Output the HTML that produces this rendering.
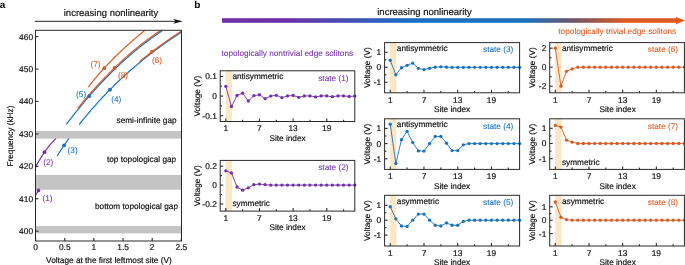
<!DOCTYPE html>
<html><head><meta charset="utf-8"><style>
html,body{margin:0;padding:0;background:#fff;width:685px;height:265px;overflow:hidden}
svg{display:block;will-change:transform}
text{font-family:"Liberation Sans", sans-serif;text-rendering:geometricPrecision}
</style></head><body>
<svg width="685" height="265" viewBox="0 0 685 265" font-family='"Liberation Sans", sans-serif'><text x="-0.30" y="8.30" font-size="10" text-anchor="start" fill="#000" font-weight="bold">a</text>
<text x="111.00" y="16.00" font-size="9.5" text-anchor="middle" fill="#111" stroke="#111" stroke-width="0.18">increasing nonlinearity</text>
<line x1="35.00" y1="21.30" x2="177.00" y2="21.30" stroke="#222" stroke-width="1.0"/>
<path d="M173.4,18.9 L182.7,21.3 L173.4,23.7 L175.4,21.3 Z" fill="#111"/>
<rect x="35.5" y="131.0" width="146.0" height="7.599999999999994" fill="#c4c4c4"/>
<rect x="35.5" y="174.9" width="146.0" height="14.900000000000006" fill="#c4c4c4"/>
<rect x="35.5" y="226.1" width="146.0" height="7.300000000000011" fill="#c4c4c4"/>
<polyline points="88.30,87.00 89.26,85.78 90.22,84.57 91.18,83.37 92.14,82.19 93.10,81.01 94.06,79.85 95.02,78.70 95.97,77.56 96.93,76.43 97.89,75.31 98.85,74.20 99.81,73.10 100.77,72.01 101.73,70.93 102.69,69.86 103.65,68.80 104.61,67.75 105.57,66.71 106.53,65.68 107.49,64.66 108.45,63.65 109.41,62.65 110.36,61.65 111.32,60.66 112.28,59.69 113.24,58.71 114.20,57.75 115.16,56.80 116.12,55.85 117.08,54.91 118.04,53.98 119.00,53.06 119.96,52.14 120.92,51.23 121.88,50.33 122.84,49.43 123.79,48.54 124.75,47.66 125.71,46.78 126.67,45.91 127.63,45.04 128.59,44.18 129.55,43.33 130.51,42.48 131.47,41.64 132.43,40.80 133.39,39.96 134.35,39.14 135.31,38.31 136.27,37.49 137.23,36.68 138.18,35.87 139.14,35.06 140.10,34.26 141.06,33.46 142.02,32.67 142.98,31.87 143.94,31.09 144.90,30.30" fill="none" stroke="#db5a21" stroke-width="1.2" stroke-linejoin="round"/>
<polyline points="35.60,167.00 35.94,166.36 36.28,165.73 36.63,165.10 36.97,164.48 37.31,163.87 37.65,163.26 38.00,162.65 38.34,162.05 38.68,161.46 39.02,160.87 39.37,160.29 39.71,159.71 40.05,159.14 40.39,158.57 40.74,158.01 41.08,157.46 41.42,156.91 41.76,156.36 42.11,155.82 42.45,155.29 42.79,154.76 43.13,154.24 43.47,153.72 43.82,153.21 44.16,152.70 44.50,152.20 44.84,151.70 45.19,151.21 45.53,150.73 45.87,150.25 46.21,149.77 46.56,149.30 46.90,148.84 47.24,148.38 47.58,147.93 47.93,147.48 48.27,147.04 48.61,146.60 48.95,146.17 49.29,145.75 49.64,145.33 49.98,144.91 50.32,144.51 50.66,144.10 51.01,143.70 51.35,143.31 51.69,142.92 52.03,142.54 52.38,142.17 52.72,141.79 53.06,141.43 53.40,141.07 53.75,140.71 54.09,140.36 54.43,140.02 54.77,139.68 55.12,139.35 55.46,139.02 55.80,138.70" fill="none" stroke="#7431a9" stroke-width="1.2" stroke-linejoin="round"/>
<polyline points="57.10,156.10 57.30,155.78 57.50,155.45 57.71,155.13 57.91,154.81 58.11,154.49 58.31,154.17 58.51,153.85 58.71,153.53 58.92,153.21 59.12,152.89 59.32,152.58 59.52,152.26 59.72,151.94 59.92,151.63 60.13,151.32 60.33,151.00 60.53,150.69 60.73,150.38 60.93,150.07 61.13,149.76 61.34,149.45 61.54,149.14 61.74,148.84 61.94,148.53 62.14,148.23 62.34,147.92 62.55,147.62 62.75,147.31 62.95,147.01 63.15,146.71 63.35,146.41 63.55,146.11 63.76,145.81 63.96,145.51 64.16,145.21 64.36,144.92 64.56,144.62 64.76,144.32 64.97,144.03 65.17,143.74 65.37,143.44 65.57,143.15 65.77,142.86 65.97,142.57 66.18,142.28 66.38,141.99 66.58,141.70 66.78,141.41 66.98,141.13 67.18,140.84 67.39,140.55 67.59,140.27 67.79,139.99 67.99,139.70 68.19,139.42 68.39,139.14 68.60,138.86 68.80,138.58 69.00,138.30" fill="none" stroke="#1872be" stroke-width="1.2" stroke-linejoin="round"/>
<polyline points="35.60,195.40 35.65,195.32 35.69,195.23 35.74,195.15 35.79,195.06 35.84,194.98 35.88,194.89 35.93,194.81 35.98,194.72 36.03,194.64 36.07,194.55 36.12,194.47 36.17,194.38 36.22,194.30 36.26,194.21 36.31,194.13 36.36,194.04 36.41,193.96 36.45,193.87 36.50,193.79 36.55,193.71 36.60,193.62 36.64,193.54 36.69,193.45 36.74,193.37 36.79,193.28 36.83,193.20 36.88,193.11 36.93,193.03 36.98,192.94 37.02,192.86 37.07,192.77 37.12,192.69 37.17,192.60 37.21,192.52 37.26,192.43 37.31,192.35 37.36,192.26 37.40,192.18 37.45,192.09 37.50,192.01 37.55,191.93 37.59,191.84 37.64,191.76 37.69,191.67 37.74,191.59 37.78,191.50 37.83,191.42 37.88,191.33 37.93,191.25 37.97,191.16 38.02,191.08 38.07,190.99 38.12,190.91 38.16,190.82 38.21,190.74 38.26,190.65 38.31,190.57 38.35,190.48 38.40,190.40" fill="none" stroke="#7431a9" stroke-width="1.2" stroke-linejoin="round"/>
<polyline points="79.10,124.60 80.40,122.97 81.69,121.36 82.99,119.76 84.28,118.18 85.58,116.61 86.88,115.06 88.17,113.52 89.47,111.99 90.77,110.48 92.06,108.98 93.36,107.50 94.65,106.03 95.95,104.58 97.25,103.13 98.54,101.70 99.84,100.29 101.14,98.88 102.43,97.49 103.73,96.12 105.02,94.75 106.32,93.40 107.62,92.06 108.91,90.73 110.21,89.42 111.51,88.12 112.80,86.82 114.10,85.55 115.39,84.28 116.69,83.02 117.99,81.78 119.28,80.54 120.58,79.32 121.87,78.11 123.17,76.91 124.47,75.72 125.76,74.54 127.06,73.38 128.36,72.22 129.65,71.07 130.95,69.93 132.24,68.81 133.54,67.69 134.84,66.58 136.13,65.48 137.43,64.40 138.73,63.32 140.02,62.25 141.32,61.19 142.61,60.14 143.91,59.09 145.21,58.06 146.50,57.03 147.80,56.02 149.09,55.01 150.39,54.01 151.69,53.02 152.98,52.03 154.28,51.06 155.58,50.09 156.87,49.13 158.17,48.18 159.46,47.23 160.76,46.29 162.06,45.36 163.35,44.43 164.65,43.52 165.95,42.61 167.24,41.70 168.54,40.80 169.83,39.91 171.13,39.03 172.43,38.15 173.72,37.28 175.02,36.41 176.32,35.55 177.61,34.69 178.91,33.84 180.20,32.99 181.50,32.15" fill="none" stroke="#1872be" stroke-width="1.2" stroke-linejoin="round"/>
<polyline points="66.30,124.40 67.61,122.68 68.93,120.97 70.24,119.28 71.55,117.59 72.86,115.92 74.18,114.27 75.49,112.62 76.80,110.99 78.11,109.37 79.43,107.77 80.74,106.17 82.05,104.59 83.36,103.02 84.68,101.47 85.99,99.92 87.30,98.39 88.62,96.87 89.93,95.37 91.24,93.87 92.55,92.39 93.87,90.92 95.18,89.47 96.49,88.02 97.80,86.59 99.12,85.17 100.43,83.76 101.74,82.36 103.05,80.98 104.37,79.61 105.68,78.25 106.99,76.90 108.31,75.57 109.62,74.24 110.93,72.93 112.24,71.63 113.56,70.35 114.87,69.07 116.18,67.81 117.49,66.56 118.81,65.32 120.12,64.09 121.43,62.87 122.74,61.67 124.06,60.48 125.37,59.29 126.68,58.13 127.99,56.97 129.31,55.82 130.62,54.69 131.93,53.56 133.25,52.45 134.56,51.35 135.87,50.27 137.18,49.19 138.50,48.12 139.81,47.07 141.12,46.03 142.43,44.99 143.75,43.97 145.06,42.97 146.37,41.97 147.68,40.98 149.00,40.01 150.31,39.04 151.62,38.09 152.94,37.15 154.25,36.22 155.56,35.30 156.87,34.39 158.19,33.50 159.50,32.61 160.81,31.73 162.12,30.87" fill="none" stroke="#1872be" stroke-width="1.2" stroke-linejoin="round"/>
<polyline points="77.60,108.50 78.77,107.07 79.94,105.64 81.11,104.23 82.28,102.82 83.45,101.42 84.62,100.04 85.79,98.66 86.96,97.29 88.13,95.94 89.30,94.59 90.47,93.25 91.64,91.93 92.81,90.61 93.97,89.30 95.14,88.00 96.31,86.71 97.48,85.44 98.65,84.17 99.82,82.91 100.99,81.66 102.16,80.42 103.33,79.19 104.50,77.97 105.67,76.76 106.84,75.56 108.01,74.37 109.18,73.19 110.35,72.01 111.52,70.85 112.69,69.70 113.86,68.55 115.03,67.42 116.20,66.29 117.37,65.18 118.54,64.07 119.71,62.97 120.88,61.89 122.05,60.81 123.22,59.74 124.38,58.68 125.55,57.63 126.72,56.59 127.89,55.56 129.06,54.53 130.23,53.52 131.40,52.52 132.57,51.52 133.74,50.54 134.91,49.56 136.08,48.59 137.25,47.63 138.42,46.68 139.59,45.74 140.76,44.81 141.93,43.89 143.10,42.98 144.27,42.07 145.44,41.18 146.61,40.29 147.78,39.41 148.95,38.55 150.12,37.69 151.29,36.83 152.46,35.99 153.63,35.16 154.79,34.34 155.96,33.52 157.13,32.71 158.30,31.92 159.47,31.13 160.64,30.35" fill="none" stroke="#db5a21" stroke-width="1.2" stroke-linejoin="round"/>
<polyline points="139.60,61.49 140.13,61.06 140.66,60.62 141.19,60.19 141.72,59.76 142.25,59.33 142.78,58.90 143.31,58.47 143.84,58.05 144.37,57.62 144.90,57.20 145.43,56.78 145.96,56.36 146.49,55.94 147.03,55.52 147.56,55.11 148.09,54.69 148.62,54.28 149.15,53.87 149.68,53.46 150.21,53.05 150.74,52.64 151.27,52.24 151.80,51.83 152.33,51.43 152.86,51.03 153.39,50.63 153.92,50.23 154.45,49.83 154.98,49.43 155.51,49.04 156.04,48.64 156.57,48.25 157.10,47.86 157.63,47.47 158.16,47.08 158.69,46.69 159.22,46.30 159.75,45.92 160.28,45.53 160.82,45.15 161.35,44.77 161.88,44.39 162.41,44.01 162.94,43.63 163.47,43.25 164.00,42.88 164.53,42.50 165.06,42.13 165.59,41.76 166.12,41.38 166.65,41.01 167.18,40.65 167.71,40.28 168.24,39.91 168.77,39.54 169.30,39.18 169.83,38.81 170.36,38.45 170.89,38.09 171.42,37.73 171.95,37.37 172.48,37.01 173.01,36.65 173.54,36.30 174.07,35.94 174.61,35.58 175.14,35.23 175.67,34.88 176.20,34.53 176.73,34.17 177.26,33.82 177.79,33.47 178.32,33.13 178.85,32.78 179.38,32.43 179.91,32.09 180.44,31.74 180.97,31.40 181.50,31.05" fill="none" stroke="#db5a21" stroke-width="1.2" stroke-linejoin="round"/>
<circle cx="38.40" cy="190.40" r="1.9" fill="#7431a9"/>
<circle cx="44.50" cy="152.20" r="1.9" fill="#7431a9"/>
<circle cx="64.10" cy="145.30" r="1.9" fill="#1872be"/>
<circle cx="110.00" cy="89.63" r="1.9" fill="#1872be"/>
<circle cx="89.20" cy="96.20" r="1.9" fill="#1872be"/>
<circle cx="152.00" cy="51.68" r="1.9" fill="#db5a21"/>
<circle cx="104.20" cy="68.20" r="1.9" fill="#db5a21"/>
<circle cx="114.50" cy="67.93" r="1.9" fill="#db5a21"/>
<text x="47.50" y="200.80" font-size="8.25" text-anchor="middle" fill="#7431a9" stroke="#7431a9" stroke-width="0.08">(1)</text>
<text x="48.20" y="165.40" font-size="8.25" text-anchor="middle" fill="#7431a9" stroke="#7431a9" stroke-width="0.08">(2)</text>
<text x="72.60" y="152.80" font-size="8.25" text-anchor="middle" fill="#1872be" stroke="#1872be" stroke-width="0.08">(3)</text>
<text x="116.20" y="102.20" font-size="8.25" text-anchor="middle" fill="#1872be" stroke="#1872be" stroke-width="0.08">(4)</text>
<text x="81.10" y="97.00" font-size="8.25" text-anchor="middle" fill="#1872be" stroke="#1872be" stroke-width="0.08">(5)</text>
<text x="157.00" y="63.40" font-size="8.25" text-anchor="middle" fill="#db5a21" stroke="#db5a21" stroke-width="0.08">(6)</text>
<text x="95.50" y="67.30" font-size="8.25" text-anchor="middle" fill="#db5a21" stroke="#db5a21" stroke-width="0.08">(7)</text>
<text x="123.00" y="77.70" font-size="8.25" text-anchor="middle" fill="#db5a21" stroke="#db5a21" stroke-width="0.08">(8)</text>
<text x="176.60" y="123.40" font-size="8.25" text-anchor="end" fill="#111" stroke="#111" stroke-width="0.18">semi-infinite gap</text>
<text x="176.20" y="161.80" font-size="8.25" text-anchor="end" fill="#111" stroke="#111" stroke-width="0.18">top topological gap</text>
<text x="178.00" y="209.30" font-size="8.25" text-anchor="end" fill="#111" stroke="#111" stroke-width="0.18">bottom topological gap</text>
<rect x="35.5" y="30.3" width="146.0" height="210.7" fill="none" stroke="#2a2a2a" stroke-width="1"/>
<line x1="35.50" y1="231.20" x2="38.50" y2="231.20" stroke="#2a2a2a" stroke-width="1.1"/>
<text x="33.10" y="234.10" font-size="8.4" text-anchor="end" fill="#111" stroke="#111" stroke-width="0.18">400</text>
<line x1="35.50" y1="198.77" x2="38.50" y2="198.77" stroke="#2a2a2a" stroke-width="1.1"/>
<text x="33.10" y="201.67" font-size="8.4" text-anchor="end" fill="#111" stroke="#111" stroke-width="0.18">410</text>
<line x1="35.50" y1="166.34" x2="38.50" y2="166.34" stroke="#2a2a2a" stroke-width="1.1"/>
<text x="33.10" y="169.24" font-size="8.4" text-anchor="end" fill="#111" stroke="#111" stroke-width="0.18">420</text>
<line x1="35.50" y1="133.91" x2="38.50" y2="133.91" stroke="#2a2a2a" stroke-width="1.1"/>
<text x="33.10" y="136.81" font-size="8.4" text-anchor="end" fill="#111" stroke="#111" stroke-width="0.18">430</text>
<line x1="35.50" y1="101.48" x2="38.50" y2="101.48" stroke="#2a2a2a" stroke-width="1.1"/>
<text x="33.10" y="104.38" font-size="8.4" text-anchor="end" fill="#111" stroke="#111" stroke-width="0.18">440</text>
<line x1="35.50" y1="69.05" x2="38.50" y2="69.05" stroke="#2a2a2a" stroke-width="1.1"/>
<text x="33.10" y="71.95" font-size="8.4" text-anchor="end" fill="#111" stroke="#111" stroke-width="0.18">450</text>
<line x1="35.50" y1="36.62" x2="38.50" y2="36.62" stroke="#2a2a2a" stroke-width="1.1"/>
<text x="33.10" y="39.52" font-size="8.4" text-anchor="end" fill="#111" stroke="#111" stroke-width="0.18">460</text>
<line x1="35.60" y1="241.00" x2="35.60" y2="238.00" stroke="#2a2a2a" stroke-width="1.1"/>
<text x="35.60" y="250.40" font-size="8.4" text-anchor="middle" fill="#111" stroke="#111" stroke-width="0.18">0</text>
<line x1="64.75" y1="241.00" x2="64.75" y2="238.00" stroke="#2a2a2a" stroke-width="1.1"/>
<text x="64.75" y="250.40" font-size="8.4" text-anchor="middle" fill="#111" stroke="#111" stroke-width="0.18">0.5</text>
<line x1="93.90" y1="241.00" x2="93.90" y2="238.00" stroke="#2a2a2a" stroke-width="1.1"/>
<text x="93.90" y="250.40" font-size="8.4" text-anchor="middle" fill="#111" stroke="#111" stroke-width="0.18">1</text>
<line x1="123.05" y1="241.00" x2="123.05" y2="238.00" stroke="#2a2a2a" stroke-width="1.1"/>
<text x="123.05" y="250.40" font-size="8.4" text-anchor="middle" fill="#111" stroke="#111" stroke-width="0.18">1.5</text>
<line x1="152.20" y1="241.00" x2="152.20" y2="238.00" stroke="#2a2a2a" stroke-width="1.1"/>
<text x="152.20" y="250.40" font-size="8.4" text-anchor="middle" fill="#111" stroke="#111" stroke-width="0.18">2</text>
<line x1="181.35" y1="241.00" x2="181.35" y2="238.00" stroke="#2a2a2a" stroke-width="1.1"/>
<text x="181.35" y="250.40" font-size="8.4" text-anchor="middle" fill="#111" stroke="#111" stroke-width="0.18">2.5</text>
<text x="108.90" y="263.00" font-size="8.25" text-anchor="middle" fill="#111" stroke="#111" stroke-width="0.18">Voltage at the first leftmost site (V)</text>
<text x="12.70" y="136.10" font-size="8.25" text-anchor="middle" fill="#111" stroke="#111" stroke-width="0.18" transform="rotate(-90 12.7 136.1)">Frequency (kHz)</text>
<text x="194.30" y="7.90" font-size="10" text-anchor="start" fill="#000" font-weight="bold">b</text>
<defs><linearGradient id="g" x1="222" y1="0" x2="685" y2="0" gradientUnits="userSpaceOnUse">
<stop offset="0" stop-color="#7230a6"/><stop offset="0.14" stop-color="#6a31a8"/><stop offset="0.40" stop-color="#1d6cc0"/><stop offset="0.65" stop-color="#1a72bf"/><stop offset="0.755" stop-color="#6c5568"/><stop offset="0.87" stop-color="#dc5a22"/><stop offset="1" stop-color="#dc5a22"/></linearGradient></defs>
<rect x="222" y="18.2" width="456" height="4.6" fill="url(#g)"/>
<path d="M675.5,16.8 L685,20.6 L675.5,24.4 L677.5,20.6 Z" fill="#dc5a22"/>
<text x="424.50" y="14.80" font-size="9.5" text-anchor="middle" fill="#111" stroke="#111" stroke-width="0.18">increasing nonlinearity</text>
<text x="221.50" y="56.30" font-size="8.25" text-anchor="start" fill="#7431a9" stroke="#7431a9" stroke-width="0.08">topologically nontrivial edge solitons</text>
<text x="676.20" y="34.10" font-size="8.25" text-anchor="end" fill="#db5a21" stroke="#db5a21" stroke-width="0.08">topologically trivial edge solitons</text>
<rect x="225.71" y="70.8" width="6.21" height="50.7" fill="#fce7c4"/>
<polyline points="225.81,86.30 231.42,106.49 237.02,95.51 242.63,93.16 248.24,101.00 253.85,95.71 259.46,94.73 265.07,98.65 270.68,96.10 276.28,95.32 281.89,97.67 287.50,95.90 293.11,95.51 298.72,97.28 304.32,95.90 309.93,95.90 315.54,96.88 321.15,95.90 326.76,95.90 332.37,96.69 337.98,95.90 343.58,95.90 349.19,96.49 354.80,96.10" fill="none" stroke="#7431a9" stroke-width="0.9" stroke-linejoin="round"/>
<circle cx="225.81" cy="86.30" r="1.65" fill="#7431a9"/>
<circle cx="231.42" cy="106.49" r="1.65" fill="#7431a9"/>
<circle cx="237.02" cy="95.51" r="1.65" fill="#7431a9"/>
<circle cx="242.63" cy="93.16" r="1.65" fill="#7431a9"/>
<circle cx="248.24" cy="101.00" r="1.65" fill="#7431a9"/>
<circle cx="253.85" cy="95.71" r="1.65" fill="#7431a9"/>
<circle cx="259.46" cy="94.73" r="1.65" fill="#7431a9"/>
<circle cx="265.07" cy="98.65" r="1.65" fill="#7431a9"/>
<circle cx="270.68" cy="96.10" r="1.65" fill="#7431a9"/>
<circle cx="276.28" cy="95.32" r="1.65" fill="#7431a9"/>
<circle cx="281.89" cy="97.67" r="1.65" fill="#7431a9"/>
<circle cx="287.50" cy="95.90" r="1.65" fill="#7431a9"/>
<circle cx="293.11" cy="95.51" r="1.65" fill="#7431a9"/>
<circle cx="298.72" cy="97.28" r="1.65" fill="#7431a9"/>
<circle cx="304.32" cy="95.90" r="1.65" fill="#7431a9"/>
<circle cx="309.93" cy="95.90" r="1.65" fill="#7431a9"/>
<circle cx="315.54" cy="96.88" r="1.65" fill="#7431a9"/>
<circle cx="321.15" cy="95.90" r="1.65" fill="#7431a9"/>
<circle cx="326.76" cy="95.90" r="1.65" fill="#7431a9"/>
<circle cx="332.37" cy="96.69" r="1.65" fill="#7431a9"/>
<circle cx="337.98" cy="95.90" r="1.65" fill="#7431a9"/>
<circle cx="343.58" cy="95.90" r="1.65" fill="#7431a9"/>
<circle cx="349.19" cy="96.49" r="1.65" fill="#7431a9"/>
<circle cx="354.80" cy="96.10" r="1.65" fill="#7431a9"/>
<rect x="220.2" y="70.8" width="134.60000000000002" height="50.7" fill="none" stroke="#2a2a2a" stroke-width="1"/>
<line x1="220.20" y1="76.50" x2="223.20" y2="76.50" stroke="#2a2a2a" stroke-width="1.1"/>
<text x="216.80" y="79.40" font-size="8.4" text-anchor="end" fill="#111" stroke="#111" stroke-width="0.18">0.1</text>
<line x1="220.20" y1="96.10" x2="223.20" y2="96.10" stroke="#2a2a2a" stroke-width="1.1"/>
<text x="216.80" y="99.00" font-size="8.4" text-anchor="end" fill="#111" stroke="#111" stroke-width="0.18">0</text>
<line x1="220.20" y1="115.70" x2="223.20" y2="115.70" stroke="#2a2a2a" stroke-width="1.1"/>
<text x="216.80" y="118.60" font-size="8.4" text-anchor="end" fill="#111" stroke="#111" stroke-width="0.18">-0.1</text>
<line x1="220.20" y1="86.30" x2="222.00" y2="86.30" stroke="#2a2a2a" stroke-width="1.1"/>
<line x1="220.20" y1="105.90" x2="222.00" y2="105.90" stroke="#2a2a2a" stroke-width="1.1"/>
<line x1="225.81" y1="121.50" x2="225.81" y2="118.50" stroke="#2a2a2a" stroke-width="1.1"/>
<text x="225.81" y="131.30" font-size="8.4" text-anchor="middle" fill="#111" stroke="#111" stroke-width="0.18">1</text>
<line x1="259.46" y1="121.50" x2="259.46" y2="118.50" stroke="#2a2a2a" stroke-width="1.1"/>
<text x="259.46" y="131.30" font-size="8.4" text-anchor="middle" fill="#111" stroke="#111" stroke-width="0.18">7</text>
<line x1="293.11" y1="121.50" x2="293.11" y2="118.50" stroke="#2a2a2a" stroke-width="1.1"/>
<text x="293.11" y="131.30" font-size="8.4" text-anchor="middle" fill="#111" stroke="#111" stroke-width="0.18">13</text>
<line x1="326.76" y1="121.50" x2="326.76" y2="118.50" stroke="#2a2a2a" stroke-width="1.1"/>
<text x="326.76" y="131.30" font-size="8.4" text-anchor="middle" fill="#111" stroke="#111" stroke-width="0.18">19</text>
<line x1="242.63" y1="121.50" x2="242.63" y2="119.70" stroke="#2a2a2a" stroke-width="1.1"/>
<line x1="276.28" y1="121.50" x2="276.28" y2="119.70" stroke="#2a2a2a" stroke-width="1.1"/>
<line x1="309.93" y1="121.50" x2="309.93" y2="119.70" stroke="#2a2a2a" stroke-width="1.1"/>
<line x1="343.58" y1="121.50" x2="343.58" y2="119.70" stroke="#2a2a2a" stroke-width="1.1"/>
<text x="287.50" y="140.60" font-size="8.25" text-anchor="middle" fill="#111" stroke="#111" stroke-width="0.18">Site index</text>
<text x="200.10" y="96.15" font-size="8.25" text-anchor="middle" fill="#111" stroke="#111" stroke-width="0.18" transform="rotate(-90 200.1 96.15)">Voltage (V)</text>
<text x="348.50" y="80.50" font-size="8.25" text-anchor="end" fill="#7431a9" stroke="#7431a9" stroke-width="0.08">state (1)</text>
<text x="232.42" y="79.00" font-size="8.25" text-anchor="start" fill="#111" stroke="#111" stroke-width="0.18">antisymmetric</text>
<rect x="225.71" y="160.4" width="6.21" height="50.69999999999999" fill="#fce7c4"/>
<polyline points="225.81,170.83 231.42,172.91 237.02,186.99 242.63,190.20 248.24,187.84 253.85,184.72 259.46,184.06 265.07,184.72 270.68,185.10 276.28,185.10 281.89,185.10 287.50,185.10 293.11,185.10 298.72,185.10 304.32,185.10 309.93,185.10 315.54,185.10 321.15,185.10 326.76,185.10 332.37,185.10 337.98,185.10 343.58,185.10 349.19,185.10 354.80,185.10" fill="none" stroke="#7431a9" stroke-width="0.9" stroke-linejoin="round"/>
<circle cx="225.81" cy="170.83" r="1.65" fill="#7431a9"/>
<circle cx="231.42" cy="172.91" r="1.65" fill="#7431a9"/>
<circle cx="237.02" cy="186.99" r="1.65" fill="#7431a9"/>
<circle cx="242.63" cy="190.20" r="1.65" fill="#7431a9"/>
<circle cx="248.24" cy="187.84" r="1.65" fill="#7431a9"/>
<circle cx="253.85" cy="184.72" r="1.65" fill="#7431a9"/>
<circle cx="259.46" cy="184.06" r="1.65" fill="#7431a9"/>
<circle cx="265.07" cy="184.72" r="1.65" fill="#7431a9"/>
<circle cx="270.68" cy="185.10" r="1.65" fill="#7431a9"/>
<circle cx="276.28" cy="185.10" r="1.65" fill="#7431a9"/>
<circle cx="281.89" cy="185.10" r="1.65" fill="#7431a9"/>
<circle cx="287.50" cy="185.10" r="1.65" fill="#7431a9"/>
<circle cx="293.11" cy="185.10" r="1.65" fill="#7431a9"/>
<circle cx="298.72" cy="185.10" r="1.65" fill="#7431a9"/>
<circle cx="304.32" cy="185.10" r="1.65" fill="#7431a9"/>
<circle cx="309.93" cy="185.10" r="1.65" fill="#7431a9"/>
<circle cx="315.54" cy="185.10" r="1.65" fill="#7431a9"/>
<circle cx="321.15" cy="185.10" r="1.65" fill="#7431a9"/>
<circle cx="326.76" cy="185.10" r="1.65" fill="#7431a9"/>
<circle cx="332.37" cy="185.10" r="1.65" fill="#7431a9"/>
<circle cx="337.98" cy="185.10" r="1.65" fill="#7431a9"/>
<circle cx="343.58" cy="185.10" r="1.65" fill="#7431a9"/>
<circle cx="349.19" cy="185.10" r="1.65" fill="#7431a9"/>
<circle cx="354.80" cy="185.10" r="1.65" fill="#7431a9"/>
<rect x="220.2" y="160.4" width="134.60000000000002" height="50.69999999999999" fill="none" stroke="#2a2a2a" stroke-width="1"/>
<line x1="220.20" y1="166.20" x2="223.20" y2="166.20" stroke="#2a2a2a" stroke-width="1.1"/>
<text x="216.80" y="169.10" font-size="8.4" text-anchor="end" fill="#111" stroke="#111" stroke-width="0.18">0.2</text>
<line x1="220.20" y1="185.10" x2="223.20" y2="185.10" stroke="#2a2a2a" stroke-width="1.1"/>
<text x="216.80" y="188.00" font-size="8.4" text-anchor="end" fill="#111" stroke="#111" stroke-width="0.18">0</text>
<line x1="220.20" y1="204.00" x2="223.20" y2="204.00" stroke="#2a2a2a" stroke-width="1.1"/>
<text x="216.80" y="206.90" font-size="8.4" text-anchor="end" fill="#111" stroke="#111" stroke-width="0.18">-0.2</text>
<line x1="220.20" y1="175.65" x2="222.00" y2="175.65" stroke="#2a2a2a" stroke-width="1.1"/>
<line x1="220.20" y1="194.55" x2="222.00" y2="194.55" stroke="#2a2a2a" stroke-width="1.1"/>
<line x1="225.81" y1="211.10" x2="225.81" y2="208.10" stroke="#2a2a2a" stroke-width="1.1"/>
<text x="225.81" y="220.90" font-size="8.4" text-anchor="middle" fill="#111" stroke="#111" stroke-width="0.18">1</text>
<line x1="259.46" y1="211.10" x2="259.46" y2="208.10" stroke="#2a2a2a" stroke-width="1.1"/>
<text x="259.46" y="220.90" font-size="8.4" text-anchor="middle" fill="#111" stroke="#111" stroke-width="0.18">7</text>
<line x1="293.11" y1="211.10" x2="293.11" y2="208.10" stroke="#2a2a2a" stroke-width="1.1"/>
<text x="293.11" y="220.90" font-size="8.4" text-anchor="middle" fill="#111" stroke="#111" stroke-width="0.18">13</text>
<line x1="326.76" y1="211.10" x2="326.76" y2="208.10" stroke="#2a2a2a" stroke-width="1.1"/>
<text x="326.76" y="220.90" font-size="8.4" text-anchor="middle" fill="#111" stroke="#111" stroke-width="0.18">19</text>
<line x1="242.63" y1="211.10" x2="242.63" y2="209.30" stroke="#2a2a2a" stroke-width="1.1"/>
<line x1="276.28" y1="211.10" x2="276.28" y2="209.30" stroke="#2a2a2a" stroke-width="1.1"/>
<line x1="309.93" y1="211.10" x2="309.93" y2="209.30" stroke="#2a2a2a" stroke-width="1.1"/>
<line x1="343.58" y1="211.10" x2="343.58" y2="209.30" stroke="#2a2a2a" stroke-width="1.1"/>
<text x="287.50" y="230.20" font-size="8.25" text-anchor="middle" fill="#111" stroke="#111" stroke-width="0.18">Site index</text>
<text x="200.10" y="185.75" font-size="8.25" text-anchor="middle" fill="#111" stroke="#111" stroke-width="0.18" transform="rotate(-90 200.1 185.75)">Voltage (V)</text>
<text x="348.50" y="170.10" font-size="8.25" text-anchor="end" fill="#7431a9" stroke="#7431a9" stroke-width="0.08">state (2)</text>
<text x="232.42" y="206.30" font-size="8.25" text-anchor="start" fill="#111" stroke="#111" stroke-width="0.18">symmetric</text>
<rect x="390.12" y="42.6" width="6.22" height="50.199999999999996" fill="#fce7c4"/>
<polyline points="390.23,60.25 395.85,74.80 401.48,67.75 407.10,65.35 412.73,63.10 418.35,68.35 423.98,69.55 429.60,68.35 435.23,67.15 440.85,66.85 446.48,67.15 452.10,67.30 457.73,67.30 463.35,67.30 468.98,67.30 474.60,67.30 480.23,67.30 485.85,67.30 491.48,67.30 497.10,67.30 502.73,67.30 508.35,67.30 513.98,67.30 519.60,67.30" fill="none" stroke="#1872be" stroke-width="0.9" stroke-linejoin="round"/>
<circle cx="390.23" cy="60.25" r="1.65" fill="#1872be"/>
<circle cx="395.85" cy="74.80" r="1.65" fill="#1872be"/>
<circle cx="401.48" cy="67.75" r="1.65" fill="#1872be"/>
<circle cx="407.10" cy="65.35" r="1.65" fill="#1872be"/>
<circle cx="412.73" cy="63.10" r="1.65" fill="#1872be"/>
<circle cx="418.35" cy="68.35" r="1.65" fill="#1872be"/>
<circle cx="423.98" cy="69.55" r="1.65" fill="#1872be"/>
<circle cx="429.60" cy="68.35" r="1.65" fill="#1872be"/>
<circle cx="435.23" cy="67.15" r="1.65" fill="#1872be"/>
<circle cx="440.85" cy="66.85" r="1.65" fill="#1872be"/>
<circle cx="446.48" cy="67.15" r="1.65" fill="#1872be"/>
<circle cx="452.10" cy="67.30" r="1.65" fill="#1872be"/>
<circle cx="457.73" cy="67.30" r="1.65" fill="#1872be"/>
<circle cx="463.35" cy="67.30" r="1.65" fill="#1872be"/>
<circle cx="468.98" cy="67.30" r="1.65" fill="#1872be"/>
<circle cx="474.60" cy="67.30" r="1.65" fill="#1872be"/>
<circle cx="480.23" cy="67.30" r="1.65" fill="#1872be"/>
<circle cx="485.85" cy="67.30" r="1.65" fill="#1872be"/>
<circle cx="491.48" cy="67.30" r="1.65" fill="#1872be"/>
<circle cx="497.10" cy="67.30" r="1.65" fill="#1872be"/>
<circle cx="502.73" cy="67.30" r="1.65" fill="#1872be"/>
<circle cx="508.35" cy="67.30" r="1.65" fill="#1872be"/>
<circle cx="513.98" cy="67.30" r="1.65" fill="#1872be"/>
<circle cx="519.60" cy="67.30" r="1.65" fill="#1872be"/>
<rect x="384.6" y="42.6" width="135.0" height="50.199999999999996" fill="none" stroke="#2a2a2a" stroke-width="1"/>
<line x1="384.60" y1="52.30" x2="387.60" y2="52.30" stroke="#2a2a2a" stroke-width="1.1"/>
<text x="381.20" y="55.20" font-size="8.4" text-anchor="end" fill="#111" stroke="#111" stroke-width="0.18">1</text>
<line x1="384.60" y1="67.30" x2="387.60" y2="67.30" stroke="#2a2a2a" stroke-width="1.1"/>
<text x="381.20" y="70.20" font-size="8.4" text-anchor="end" fill="#111" stroke="#111" stroke-width="0.18">0</text>
<line x1="384.60" y1="82.30" x2="387.60" y2="82.30" stroke="#2a2a2a" stroke-width="1.1"/>
<text x="381.20" y="85.20" font-size="8.4" text-anchor="end" fill="#111" stroke="#111" stroke-width="0.18">-1</text>
<line x1="384.60" y1="59.80" x2="386.40" y2="59.80" stroke="#2a2a2a" stroke-width="1.1"/>
<line x1="384.60" y1="74.80" x2="386.40" y2="74.80" stroke="#2a2a2a" stroke-width="1.1"/>
<line x1="390.23" y1="92.80" x2="390.23" y2="89.80" stroke="#2a2a2a" stroke-width="1.1"/>
<text x="390.23" y="102.60" font-size="8.4" text-anchor="middle" fill="#111" stroke="#111" stroke-width="0.18">1</text>
<line x1="423.98" y1="92.80" x2="423.98" y2="89.80" stroke="#2a2a2a" stroke-width="1.1"/>
<text x="423.98" y="102.60" font-size="8.4" text-anchor="middle" fill="#111" stroke="#111" stroke-width="0.18">7</text>
<line x1="457.73" y1="92.80" x2="457.73" y2="89.80" stroke="#2a2a2a" stroke-width="1.1"/>
<text x="457.73" y="102.60" font-size="8.4" text-anchor="middle" fill="#111" stroke="#111" stroke-width="0.18">13</text>
<line x1="491.48" y1="92.80" x2="491.48" y2="89.80" stroke="#2a2a2a" stroke-width="1.1"/>
<text x="491.48" y="102.60" font-size="8.4" text-anchor="middle" fill="#111" stroke="#111" stroke-width="0.18">19</text>
<line x1="407.10" y1="92.80" x2="407.10" y2="91.00" stroke="#2a2a2a" stroke-width="1.1"/>
<line x1="440.85" y1="92.80" x2="440.85" y2="91.00" stroke="#2a2a2a" stroke-width="1.1"/>
<line x1="474.60" y1="92.80" x2="474.60" y2="91.00" stroke="#2a2a2a" stroke-width="1.1"/>
<line x1="508.35" y1="92.80" x2="508.35" y2="91.00" stroke="#2a2a2a" stroke-width="1.1"/>
<text x="452.10" y="111.90" font-size="8.25" text-anchor="middle" fill="#111" stroke="#111" stroke-width="0.18">Site index</text>
<text x="370.40" y="67.70" font-size="8.25" text-anchor="middle" fill="#111" stroke="#111" stroke-width="0.18" transform="rotate(-90 370.40000000000003 67.7)">Voltage (V)</text>
<text x="513.30" y="52.30" font-size="8.25" text-anchor="end" fill="#1872be" stroke="#1872be" stroke-width="0.08">state (3)</text>
<text x="396.85" y="50.80" font-size="8.25" text-anchor="start" fill="#111" stroke="#111" stroke-width="0.18">antisymmetric</text>
<rect x="390.12" y="118.8" width="6.22" height="50.60000000000001" fill="#fce7c4"/>
<polyline points="390.23,124.14 395.85,163.51 401.48,139.65 407.10,131.29 412.73,142.54 418.35,150.90 423.98,151.05 429.60,143.60 435.23,136.46 440.85,136.46 446.48,143.14 452.10,150.59 457.73,150.59 463.35,144.82 468.98,143.60 474.60,143.60 480.23,143.60 485.85,143.60 491.48,143.60 497.10,143.60 502.73,143.60 508.35,143.60 513.98,143.60 519.60,143.60" fill="none" stroke="#1872be" stroke-width="0.9" stroke-linejoin="round"/>
<circle cx="390.23" cy="124.14" r="1.65" fill="#1872be"/>
<circle cx="395.85" cy="163.51" r="1.65" fill="#1872be"/>
<circle cx="401.48" cy="139.65" r="1.65" fill="#1872be"/>
<circle cx="407.10" cy="131.29" r="1.65" fill="#1872be"/>
<circle cx="412.73" cy="142.54" r="1.65" fill="#1872be"/>
<circle cx="418.35" cy="150.90" r="1.65" fill="#1872be"/>
<circle cx="423.98" cy="151.05" r="1.65" fill="#1872be"/>
<circle cx="429.60" cy="143.60" r="1.65" fill="#1872be"/>
<circle cx="435.23" cy="136.46" r="1.65" fill="#1872be"/>
<circle cx="440.85" cy="136.46" r="1.65" fill="#1872be"/>
<circle cx="446.48" cy="143.14" r="1.65" fill="#1872be"/>
<circle cx="452.10" cy="150.59" r="1.65" fill="#1872be"/>
<circle cx="457.73" cy="150.59" r="1.65" fill="#1872be"/>
<circle cx="463.35" cy="144.82" r="1.65" fill="#1872be"/>
<circle cx="468.98" cy="143.60" r="1.65" fill="#1872be"/>
<circle cx="474.60" cy="143.60" r="1.65" fill="#1872be"/>
<circle cx="480.23" cy="143.60" r="1.65" fill="#1872be"/>
<circle cx="485.85" cy="143.60" r="1.65" fill="#1872be"/>
<circle cx="491.48" cy="143.60" r="1.65" fill="#1872be"/>
<circle cx="497.10" cy="143.60" r="1.65" fill="#1872be"/>
<circle cx="502.73" cy="143.60" r="1.65" fill="#1872be"/>
<circle cx="508.35" cy="143.60" r="1.65" fill="#1872be"/>
<circle cx="513.98" cy="143.60" r="1.65" fill="#1872be"/>
<circle cx="519.60" cy="143.60" r="1.65" fill="#1872be"/>
<rect x="384.6" y="118.8" width="135.0" height="50.60000000000001" fill="none" stroke="#2a2a2a" stroke-width="1"/>
<line x1="384.60" y1="128.40" x2="387.60" y2="128.40" stroke="#2a2a2a" stroke-width="1.1"/>
<text x="381.20" y="131.30" font-size="8.4" text-anchor="end" fill="#111" stroke="#111" stroke-width="0.18">1</text>
<line x1="384.60" y1="143.60" x2="387.60" y2="143.60" stroke="#2a2a2a" stroke-width="1.1"/>
<text x="381.20" y="146.50" font-size="8.4" text-anchor="end" fill="#111" stroke="#111" stroke-width="0.18">0</text>
<line x1="384.60" y1="158.80" x2="387.60" y2="158.80" stroke="#2a2a2a" stroke-width="1.1"/>
<text x="381.20" y="161.70" font-size="8.4" text-anchor="end" fill="#111" stroke="#111" stroke-width="0.18">-1</text>
<line x1="384.60" y1="136.00" x2="386.40" y2="136.00" stroke="#2a2a2a" stroke-width="1.1"/>
<line x1="384.60" y1="151.20" x2="386.40" y2="151.20" stroke="#2a2a2a" stroke-width="1.1"/>
<line x1="390.23" y1="169.40" x2="390.23" y2="166.40" stroke="#2a2a2a" stroke-width="1.1"/>
<text x="390.23" y="179.20" font-size="8.4" text-anchor="middle" fill="#111" stroke="#111" stroke-width="0.18">1</text>
<line x1="423.98" y1="169.40" x2="423.98" y2="166.40" stroke="#2a2a2a" stroke-width="1.1"/>
<text x="423.98" y="179.20" font-size="8.4" text-anchor="middle" fill="#111" stroke="#111" stroke-width="0.18">7</text>
<line x1="457.73" y1="169.40" x2="457.73" y2="166.40" stroke="#2a2a2a" stroke-width="1.1"/>
<text x="457.73" y="179.20" font-size="8.4" text-anchor="middle" fill="#111" stroke="#111" stroke-width="0.18">13</text>
<line x1="491.48" y1="169.40" x2="491.48" y2="166.40" stroke="#2a2a2a" stroke-width="1.1"/>
<text x="491.48" y="179.20" font-size="8.4" text-anchor="middle" fill="#111" stroke="#111" stroke-width="0.18">19</text>
<line x1="407.10" y1="169.40" x2="407.10" y2="167.60" stroke="#2a2a2a" stroke-width="1.1"/>
<line x1="440.85" y1="169.40" x2="440.85" y2="167.60" stroke="#2a2a2a" stroke-width="1.1"/>
<line x1="474.60" y1="169.40" x2="474.60" y2="167.60" stroke="#2a2a2a" stroke-width="1.1"/>
<line x1="508.35" y1="169.40" x2="508.35" y2="167.60" stroke="#2a2a2a" stroke-width="1.1"/>
<text x="452.10" y="188.50" font-size="8.25" text-anchor="middle" fill="#111" stroke="#111" stroke-width="0.18">Site index</text>
<text x="370.40" y="144.10" font-size="8.25" text-anchor="middle" fill="#111" stroke="#111" stroke-width="0.18" transform="rotate(-90 370.40000000000003 144.1)">Voltage (V)</text>
<text x="513.30" y="128.50" font-size="8.25" text-anchor="end" fill="#1872be" stroke="#1872be" stroke-width="0.08">state (4)</text>
<text x="396.85" y="127.00" font-size="8.25" text-anchor="start" fill="#111" stroke="#111" stroke-width="0.18">antisymmetric</text>
<rect x="390.12" y="195.3" width="6.22" height="50.69999999999999" fill="#fce7c4"/>
<polyline points="390.23,206.64 395.85,218.86 401.48,226.01 407.10,226.46 412.73,220.20 418.35,214.09 423.98,214.09 429.60,220.20 435.23,225.27 440.85,226.01 446.48,222.88 452.10,225.27 457.73,225.27 463.35,221.39 468.98,220.20 474.60,220.20 480.23,220.20 485.85,220.20 491.48,220.20 497.10,220.20 502.73,220.20 508.35,220.20 513.98,220.20 519.60,220.20" fill="none" stroke="#1872be" stroke-width="0.9" stroke-linejoin="round"/>
<circle cx="390.23" cy="206.64" r="1.65" fill="#1872be"/>
<circle cx="395.85" cy="218.86" r="1.65" fill="#1872be"/>
<circle cx="401.48" cy="226.01" r="1.65" fill="#1872be"/>
<circle cx="407.10" cy="226.46" r="1.65" fill="#1872be"/>
<circle cx="412.73" cy="220.20" r="1.65" fill="#1872be"/>
<circle cx="418.35" cy="214.09" r="1.65" fill="#1872be"/>
<circle cx="423.98" cy="214.09" r="1.65" fill="#1872be"/>
<circle cx="429.60" cy="220.20" r="1.65" fill="#1872be"/>
<circle cx="435.23" cy="225.27" r="1.65" fill="#1872be"/>
<circle cx="440.85" cy="226.01" r="1.65" fill="#1872be"/>
<circle cx="446.48" cy="222.88" r="1.65" fill="#1872be"/>
<circle cx="452.10" cy="225.27" r="1.65" fill="#1872be"/>
<circle cx="457.73" cy="225.27" r="1.65" fill="#1872be"/>
<circle cx="463.35" cy="221.39" r="1.65" fill="#1872be"/>
<circle cx="468.98" cy="220.20" r="1.65" fill="#1872be"/>
<circle cx="474.60" cy="220.20" r="1.65" fill="#1872be"/>
<circle cx="480.23" cy="220.20" r="1.65" fill="#1872be"/>
<circle cx="485.85" cy="220.20" r="1.65" fill="#1872be"/>
<circle cx="491.48" cy="220.20" r="1.65" fill="#1872be"/>
<circle cx="497.10" cy="220.20" r="1.65" fill="#1872be"/>
<circle cx="502.73" cy="220.20" r="1.65" fill="#1872be"/>
<circle cx="508.35" cy="220.20" r="1.65" fill="#1872be"/>
<circle cx="513.98" cy="220.20" r="1.65" fill="#1872be"/>
<circle cx="519.60" cy="220.20" r="1.65" fill="#1872be"/>
<rect x="384.6" y="195.3" width="135.0" height="50.69999999999999" fill="none" stroke="#2a2a2a" stroke-width="1"/>
<line x1="384.60" y1="205.30" x2="387.60" y2="205.30" stroke="#2a2a2a" stroke-width="1.1"/>
<text x="381.20" y="208.20" font-size="8.4" text-anchor="end" fill="#111" stroke="#111" stroke-width="0.18">1</text>
<line x1="384.60" y1="220.20" x2="387.60" y2="220.20" stroke="#2a2a2a" stroke-width="1.1"/>
<text x="381.20" y="223.10" font-size="8.4" text-anchor="end" fill="#111" stroke="#111" stroke-width="0.18">0</text>
<line x1="384.60" y1="235.10" x2="387.60" y2="235.10" stroke="#2a2a2a" stroke-width="1.1"/>
<text x="381.20" y="238.00" font-size="8.4" text-anchor="end" fill="#111" stroke="#111" stroke-width="0.18">-1</text>
<line x1="384.60" y1="212.75" x2="386.40" y2="212.75" stroke="#2a2a2a" stroke-width="1.1"/>
<line x1="384.60" y1="227.65" x2="386.40" y2="227.65" stroke="#2a2a2a" stroke-width="1.1"/>
<line x1="390.23" y1="246.00" x2="390.23" y2="243.00" stroke="#2a2a2a" stroke-width="1.1"/>
<text x="390.23" y="255.80" font-size="8.4" text-anchor="middle" fill="#111" stroke="#111" stroke-width="0.18">1</text>
<line x1="423.98" y1="246.00" x2="423.98" y2="243.00" stroke="#2a2a2a" stroke-width="1.1"/>
<text x="423.98" y="255.80" font-size="8.4" text-anchor="middle" fill="#111" stroke="#111" stroke-width="0.18">7</text>
<line x1="457.73" y1="246.00" x2="457.73" y2="243.00" stroke="#2a2a2a" stroke-width="1.1"/>
<text x="457.73" y="255.80" font-size="8.4" text-anchor="middle" fill="#111" stroke="#111" stroke-width="0.18">13</text>
<line x1="491.48" y1="246.00" x2="491.48" y2="243.00" stroke="#2a2a2a" stroke-width="1.1"/>
<text x="491.48" y="255.80" font-size="8.4" text-anchor="middle" fill="#111" stroke="#111" stroke-width="0.18">19</text>
<line x1="407.10" y1="246.00" x2="407.10" y2="244.20" stroke="#2a2a2a" stroke-width="1.1"/>
<line x1="440.85" y1="246.00" x2="440.85" y2="244.20" stroke="#2a2a2a" stroke-width="1.1"/>
<line x1="474.60" y1="246.00" x2="474.60" y2="244.20" stroke="#2a2a2a" stroke-width="1.1"/>
<line x1="508.35" y1="246.00" x2="508.35" y2="244.20" stroke="#2a2a2a" stroke-width="1.1"/>
<text x="452.10" y="265.10" font-size="8.25" text-anchor="middle" fill="#111" stroke="#111" stroke-width="0.18">Site index</text>
<text x="370.40" y="220.65" font-size="8.25" text-anchor="middle" fill="#111" stroke="#111" stroke-width="0.18" transform="rotate(-90 370.40000000000003 220.65)">Voltage (V)</text>
<text x="513.30" y="205.00" font-size="8.25" text-anchor="end" fill="#1872be" stroke="#1872be" stroke-width="0.08">state (5)</text>
<text x="396.85" y="203.50" font-size="8.25" text-anchor="start" fill="#111" stroke="#111" stroke-width="0.18">asymmetric</text>
<rect x="555.21" y="42.6" width="6.21" height="50.199999999999996" fill="#fce7c4"/>
<polyline points="555.31,48.20 560.93,86.20 566.54,71.28 572.15,68.91 577.76,67.20 583.38,67.20 588.99,67.20 594.60,67.20 600.21,67.20 605.83,67.20 611.44,67.20 617.05,67.20 622.66,67.20 628.27,67.20 633.89,67.20 639.50,67.20 645.11,67.20 650.73,67.20 656.34,67.20 661.95,67.20 667.56,67.20 673.17,67.20 678.79,67.20 684.40,67.20" fill="none" stroke="#db5a21" stroke-width="0.9" stroke-linejoin="round"/>
<circle cx="555.31" cy="48.20" r="1.65" fill="#db5a21"/>
<circle cx="560.93" cy="86.20" r="1.65" fill="#db5a21"/>
<circle cx="566.54" cy="71.28" r="1.65" fill="#db5a21"/>
<circle cx="572.15" cy="68.91" r="1.65" fill="#db5a21"/>
<circle cx="577.76" cy="67.20" r="1.65" fill="#db5a21"/>
<circle cx="583.38" cy="67.20" r="1.65" fill="#db5a21"/>
<circle cx="588.99" cy="67.20" r="1.65" fill="#db5a21"/>
<circle cx="594.60" cy="67.20" r="1.65" fill="#db5a21"/>
<circle cx="600.21" cy="67.20" r="1.65" fill="#db5a21"/>
<circle cx="605.83" cy="67.20" r="1.65" fill="#db5a21"/>
<circle cx="611.44" cy="67.20" r="1.65" fill="#db5a21"/>
<circle cx="617.05" cy="67.20" r="1.65" fill="#db5a21"/>
<circle cx="622.66" cy="67.20" r="1.65" fill="#db5a21"/>
<circle cx="628.27" cy="67.20" r="1.65" fill="#db5a21"/>
<circle cx="633.89" cy="67.20" r="1.65" fill="#db5a21"/>
<circle cx="639.50" cy="67.20" r="1.65" fill="#db5a21"/>
<circle cx="645.11" cy="67.20" r="1.65" fill="#db5a21"/>
<circle cx="650.73" cy="67.20" r="1.65" fill="#db5a21"/>
<circle cx="656.34" cy="67.20" r="1.65" fill="#db5a21"/>
<circle cx="661.95" cy="67.20" r="1.65" fill="#db5a21"/>
<circle cx="667.56" cy="67.20" r="1.65" fill="#db5a21"/>
<circle cx="673.17" cy="67.20" r="1.65" fill="#db5a21"/>
<circle cx="678.79" cy="67.20" r="1.65" fill="#db5a21"/>
<circle cx="684.40" cy="67.20" r="1.65" fill="#db5a21"/>
<rect x="549.7" y="42.6" width="134.69999999999993" height="50.199999999999996" fill="none" stroke="#2a2a2a" stroke-width="1"/>
<line x1="549.70" y1="48.20" x2="552.70" y2="48.20" stroke="#2a2a2a" stroke-width="1.1"/>
<text x="546.30" y="51.10" font-size="8.4" text-anchor="end" fill="#111" stroke="#111" stroke-width="0.18">2</text>
<line x1="549.70" y1="67.20" x2="552.70" y2="67.20" stroke="#2a2a2a" stroke-width="1.1"/>
<text x="546.30" y="70.10" font-size="8.4" text-anchor="end" fill="#111" stroke="#111" stroke-width="0.18">0</text>
<line x1="549.70" y1="86.20" x2="552.70" y2="86.20" stroke="#2a2a2a" stroke-width="1.1"/>
<text x="546.30" y="89.10" font-size="8.4" text-anchor="end" fill="#111" stroke="#111" stroke-width="0.18">-2</text>
<line x1="549.70" y1="57.70" x2="551.50" y2="57.70" stroke="#2a2a2a" stroke-width="1.1"/>
<line x1="549.70" y1="76.70" x2="551.50" y2="76.70" stroke="#2a2a2a" stroke-width="1.1"/>
<line x1="555.31" y1="92.80" x2="555.31" y2="89.80" stroke="#2a2a2a" stroke-width="1.1"/>
<text x="555.31" y="102.60" font-size="8.4" text-anchor="middle" fill="#111" stroke="#111" stroke-width="0.18">1</text>
<line x1="588.99" y1="92.80" x2="588.99" y2="89.80" stroke="#2a2a2a" stroke-width="1.1"/>
<text x="588.99" y="102.60" font-size="8.4" text-anchor="middle" fill="#111" stroke="#111" stroke-width="0.18">7</text>
<line x1="622.66" y1="92.80" x2="622.66" y2="89.80" stroke="#2a2a2a" stroke-width="1.1"/>
<text x="622.66" y="102.60" font-size="8.4" text-anchor="middle" fill="#111" stroke="#111" stroke-width="0.18">13</text>
<line x1="656.34" y1="92.80" x2="656.34" y2="89.80" stroke="#2a2a2a" stroke-width="1.1"/>
<text x="656.34" y="102.60" font-size="8.4" text-anchor="middle" fill="#111" stroke="#111" stroke-width="0.18">19</text>
<line x1="572.15" y1="92.80" x2="572.15" y2="91.00" stroke="#2a2a2a" stroke-width="1.1"/>
<line x1="605.83" y1="92.80" x2="605.83" y2="91.00" stroke="#2a2a2a" stroke-width="1.1"/>
<line x1="639.50" y1="92.80" x2="639.50" y2="91.00" stroke="#2a2a2a" stroke-width="1.1"/>
<line x1="673.17" y1="92.80" x2="673.17" y2="91.00" stroke="#2a2a2a" stroke-width="1.1"/>
<text x="617.65" y="111.90" font-size="8.25" text-anchor="middle" fill="#111" stroke="#111" stroke-width="0.18">Site index</text>
<text x="535.50" y="67.70" font-size="8.25" text-anchor="middle" fill="#111" stroke="#111" stroke-width="0.18" transform="rotate(-90 535.5 67.7)">Voltage (V)</text>
<text x="678.10" y="52.30" font-size="8.25" text-anchor="end" fill="#db5a21" stroke="#db5a21" stroke-width="0.08">state (6)</text>
<text x="561.93" y="50.80" font-size="8.25" text-anchor="start" fill="#111" stroke="#111" stroke-width="0.18">antisymmetric</text>
<rect x="555.21" y="118.8" width="6.21" height="50.60000000000001" fill="#fce7c4"/>
<polyline points="555.31,125.41 560.93,127.08 566.54,140.16 572.15,142.13 577.76,143.50 583.38,143.50 588.99,143.50 594.60,143.50 600.21,143.50 605.83,143.50 611.44,143.50 617.05,143.50 622.66,143.50 628.27,143.50 633.89,143.50 639.50,143.50 645.11,143.50 650.73,143.50 656.34,143.50 661.95,143.50 667.56,143.50 673.17,143.50 678.79,143.50 684.40,143.50" fill="none" stroke="#db5a21" stroke-width="0.9" stroke-linejoin="round"/>
<circle cx="555.31" cy="125.41" r="1.65" fill="#db5a21"/>
<circle cx="560.93" cy="127.08" r="1.65" fill="#db5a21"/>
<circle cx="566.54" cy="140.16" r="1.65" fill="#db5a21"/>
<circle cx="572.15" cy="142.13" r="1.65" fill="#db5a21"/>
<circle cx="577.76" cy="143.50" r="1.65" fill="#db5a21"/>
<circle cx="583.38" cy="143.50" r="1.65" fill="#db5a21"/>
<circle cx="588.99" cy="143.50" r="1.65" fill="#db5a21"/>
<circle cx="594.60" cy="143.50" r="1.65" fill="#db5a21"/>
<circle cx="600.21" cy="143.50" r="1.65" fill="#db5a21"/>
<circle cx="605.83" cy="143.50" r="1.65" fill="#db5a21"/>
<circle cx="611.44" cy="143.50" r="1.65" fill="#db5a21"/>
<circle cx="617.05" cy="143.50" r="1.65" fill="#db5a21"/>
<circle cx="622.66" cy="143.50" r="1.65" fill="#db5a21"/>
<circle cx="628.27" cy="143.50" r="1.65" fill="#db5a21"/>
<circle cx="633.89" cy="143.50" r="1.65" fill="#db5a21"/>
<circle cx="639.50" cy="143.50" r="1.65" fill="#db5a21"/>
<circle cx="645.11" cy="143.50" r="1.65" fill="#db5a21"/>
<circle cx="650.73" cy="143.50" r="1.65" fill="#db5a21"/>
<circle cx="656.34" cy="143.50" r="1.65" fill="#db5a21"/>
<circle cx="661.95" cy="143.50" r="1.65" fill="#db5a21"/>
<circle cx="667.56" cy="143.50" r="1.65" fill="#db5a21"/>
<circle cx="673.17" cy="143.50" r="1.65" fill="#db5a21"/>
<circle cx="678.79" cy="143.50" r="1.65" fill="#db5a21"/>
<circle cx="684.40" cy="143.50" r="1.65" fill="#db5a21"/>
<rect x="549.7" y="118.8" width="134.69999999999993" height="50.60000000000001" fill="none" stroke="#2a2a2a" stroke-width="1"/>
<line x1="549.70" y1="128.30" x2="552.70" y2="128.30" stroke="#2a2a2a" stroke-width="1.1"/>
<text x="546.30" y="131.20" font-size="8.4" text-anchor="end" fill="#111" stroke="#111" stroke-width="0.18">1</text>
<line x1="549.70" y1="143.50" x2="552.70" y2="143.50" stroke="#2a2a2a" stroke-width="1.1"/>
<text x="546.30" y="146.40" font-size="8.4" text-anchor="end" fill="#111" stroke="#111" stroke-width="0.18">0</text>
<line x1="549.70" y1="158.70" x2="552.70" y2="158.70" stroke="#2a2a2a" stroke-width="1.1"/>
<text x="546.30" y="161.60" font-size="8.4" text-anchor="end" fill="#111" stroke="#111" stroke-width="0.18">-1</text>
<line x1="549.70" y1="135.90" x2="551.50" y2="135.90" stroke="#2a2a2a" stroke-width="1.1"/>
<line x1="549.70" y1="151.10" x2="551.50" y2="151.10" stroke="#2a2a2a" stroke-width="1.1"/>
<line x1="555.31" y1="169.40" x2="555.31" y2="166.40" stroke="#2a2a2a" stroke-width="1.1"/>
<text x="555.31" y="179.20" font-size="8.4" text-anchor="middle" fill="#111" stroke="#111" stroke-width="0.18">1</text>
<line x1="588.99" y1="169.40" x2="588.99" y2="166.40" stroke="#2a2a2a" stroke-width="1.1"/>
<text x="588.99" y="179.20" font-size="8.4" text-anchor="middle" fill="#111" stroke="#111" stroke-width="0.18">7</text>
<line x1="622.66" y1="169.40" x2="622.66" y2="166.40" stroke="#2a2a2a" stroke-width="1.1"/>
<text x="622.66" y="179.20" font-size="8.4" text-anchor="middle" fill="#111" stroke="#111" stroke-width="0.18">13</text>
<line x1="656.34" y1="169.40" x2="656.34" y2="166.40" stroke="#2a2a2a" stroke-width="1.1"/>
<text x="656.34" y="179.20" font-size="8.4" text-anchor="middle" fill="#111" stroke="#111" stroke-width="0.18">19</text>
<line x1="572.15" y1="169.40" x2="572.15" y2="167.60" stroke="#2a2a2a" stroke-width="1.1"/>
<line x1="605.83" y1="169.40" x2="605.83" y2="167.60" stroke="#2a2a2a" stroke-width="1.1"/>
<line x1="639.50" y1="169.40" x2="639.50" y2="167.60" stroke="#2a2a2a" stroke-width="1.1"/>
<line x1="673.17" y1="169.40" x2="673.17" y2="167.60" stroke="#2a2a2a" stroke-width="1.1"/>
<text x="617.65" y="188.50" font-size="8.25" text-anchor="middle" fill="#111" stroke="#111" stroke-width="0.18">Site index</text>
<text x="535.50" y="144.10" font-size="8.25" text-anchor="middle" fill="#111" stroke="#111" stroke-width="0.18" transform="rotate(-90 535.5 144.1)">Voltage (V)</text>
<text x="678.10" y="128.50" font-size="8.25" text-anchor="end" fill="#db5a21" stroke="#db5a21" stroke-width="0.08">state (7)</text>
<text x="561.93" y="164.60" font-size="8.25" text-anchor="start" fill="#111" stroke="#111" stroke-width="0.18">symmetric</text>
<rect x="555.21" y="195.3" width="6.21" height="50.69999999999999" fill="#fce7c4"/>
<polyline points="555.31,201.98 560.93,217.25 566.54,219.66 572.15,220.20 577.76,220.20 583.38,220.20 588.99,220.20 594.60,220.20 600.21,220.20 605.83,220.20 611.44,220.20 617.05,220.20 622.66,220.20 628.27,220.20 633.89,220.20 639.50,220.20 645.11,220.20 650.73,220.20 656.34,220.20 661.95,220.20 667.56,220.20 673.17,220.20 678.79,220.20 684.40,220.20" fill="none" stroke="#db5a21" stroke-width="0.9" stroke-linejoin="round"/>
<circle cx="555.31" cy="201.98" r="1.65" fill="#db5a21"/>
<circle cx="560.93" cy="217.25" r="1.65" fill="#db5a21"/>
<circle cx="566.54" cy="219.66" r="1.65" fill="#db5a21"/>
<circle cx="572.15" cy="220.20" r="1.65" fill="#db5a21"/>
<circle cx="577.76" cy="220.20" r="1.65" fill="#db5a21"/>
<circle cx="583.38" cy="220.20" r="1.65" fill="#db5a21"/>
<circle cx="588.99" cy="220.20" r="1.65" fill="#db5a21"/>
<circle cx="594.60" cy="220.20" r="1.65" fill="#db5a21"/>
<circle cx="600.21" cy="220.20" r="1.65" fill="#db5a21"/>
<circle cx="605.83" cy="220.20" r="1.65" fill="#db5a21"/>
<circle cx="611.44" cy="220.20" r="1.65" fill="#db5a21"/>
<circle cx="617.05" cy="220.20" r="1.65" fill="#db5a21"/>
<circle cx="622.66" cy="220.20" r="1.65" fill="#db5a21"/>
<circle cx="628.27" cy="220.20" r="1.65" fill="#db5a21"/>
<circle cx="633.89" cy="220.20" r="1.65" fill="#db5a21"/>
<circle cx="639.50" cy="220.20" r="1.65" fill="#db5a21"/>
<circle cx="645.11" cy="220.20" r="1.65" fill="#db5a21"/>
<circle cx="650.73" cy="220.20" r="1.65" fill="#db5a21"/>
<circle cx="656.34" cy="220.20" r="1.65" fill="#db5a21"/>
<circle cx="661.95" cy="220.20" r="1.65" fill="#db5a21"/>
<circle cx="667.56" cy="220.20" r="1.65" fill="#db5a21"/>
<circle cx="673.17" cy="220.20" r="1.65" fill="#db5a21"/>
<circle cx="678.79" cy="220.20" r="1.65" fill="#db5a21"/>
<circle cx="684.40" cy="220.20" r="1.65" fill="#db5a21"/>
<rect x="549.7" y="195.3" width="134.69999999999993" height="50.69999999999999" fill="none" stroke="#2a2a2a" stroke-width="1"/>
<line x1="549.70" y1="206.80" x2="552.70" y2="206.80" stroke="#2a2a2a" stroke-width="1.1"/>
<text x="546.30" y="209.70" font-size="8.4" text-anchor="end" fill="#111" stroke="#111" stroke-width="0.18">1</text>
<line x1="549.70" y1="220.20" x2="552.70" y2="220.20" stroke="#2a2a2a" stroke-width="1.1"/>
<text x="546.30" y="223.10" font-size="8.4" text-anchor="end" fill="#111" stroke="#111" stroke-width="0.18">0</text>
<line x1="549.70" y1="233.60" x2="552.70" y2="233.60" stroke="#2a2a2a" stroke-width="1.1"/>
<text x="546.30" y="236.50" font-size="8.4" text-anchor="end" fill="#111" stroke="#111" stroke-width="0.18">-1</text>
<line x1="549.70" y1="213.50" x2="551.50" y2="213.50" stroke="#2a2a2a" stroke-width="1.1"/>
<line x1="549.70" y1="226.90" x2="551.50" y2="226.90" stroke="#2a2a2a" stroke-width="1.1"/>
<line x1="555.31" y1="246.00" x2="555.31" y2="243.00" stroke="#2a2a2a" stroke-width="1.1"/>
<text x="555.31" y="255.80" font-size="8.4" text-anchor="middle" fill="#111" stroke="#111" stroke-width="0.18">1</text>
<line x1="588.99" y1="246.00" x2="588.99" y2="243.00" stroke="#2a2a2a" stroke-width="1.1"/>
<text x="588.99" y="255.80" font-size="8.4" text-anchor="middle" fill="#111" stroke="#111" stroke-width="0.18">7</text>
<line x1="622.66" y1="246.00" x2="622.66" y2="243.00" stroke="#2a2a2a" stroke-width="1.1"/>
<text x="622.66" y="255.80" font-size="8.4" text-anchor="middle" fill="#111" stroke="#111" stroke-width="0.18">13</text>
<line x1="656.34" y1="246.00" x2="656.34" y2="243.00" stroke="#2a2a2a" stroke-width="1.1"/>
<text x="656.34" y="255.80" font-size="8.4" text-anchor="middle" fill="#111" stroke="#111" stroke-width="0.18">19</text>
<line x1="572.15" y1="246.00" x2="572.15" y2="244.20" stroke="#2a2a2a" stroke-width="1.1"/>
<line x1="605.83" y1="246.00" x2="605.83" y2="244.20" stroke="#2a2a2a" stroke-width="1.1"/>
<line x1="639.50" y1="246.00" x2="639.50" y2="244.20" stroke="#2a2a2a" stroke-width="1.1"/>
<line x1="673.17" y1="246.00" x2="673.17" y2="244.20" stroke="#2a2a2a" stroke-width="1.1"/>
<text x="617.65" y="265.10" font-size="8.25" text-anchor="middle" fill="#111" stroke="#111" stroke-width="0.18">Site index</text>
<text x="535.50" y="220.65" font-size="8.25" text-anchor="middle" fill="#111" stroke="#111" stroke-width="0.18" transform="rotate(-90 535.5 220.65)">Voltage (V)</text>
<text x="678.10" y="205.00" font-size="8.25" text-anchor="end" fill="#db5a21" stroke="#db5a21" stroke-width="0.08">state (8)</text>
<text x="561.93" y="203.50" font-size="8.25" text-anchor="start" fill="#111" stroke="#111" stroke-width="0.18">asymmetric</text></svg>
</body></html>
